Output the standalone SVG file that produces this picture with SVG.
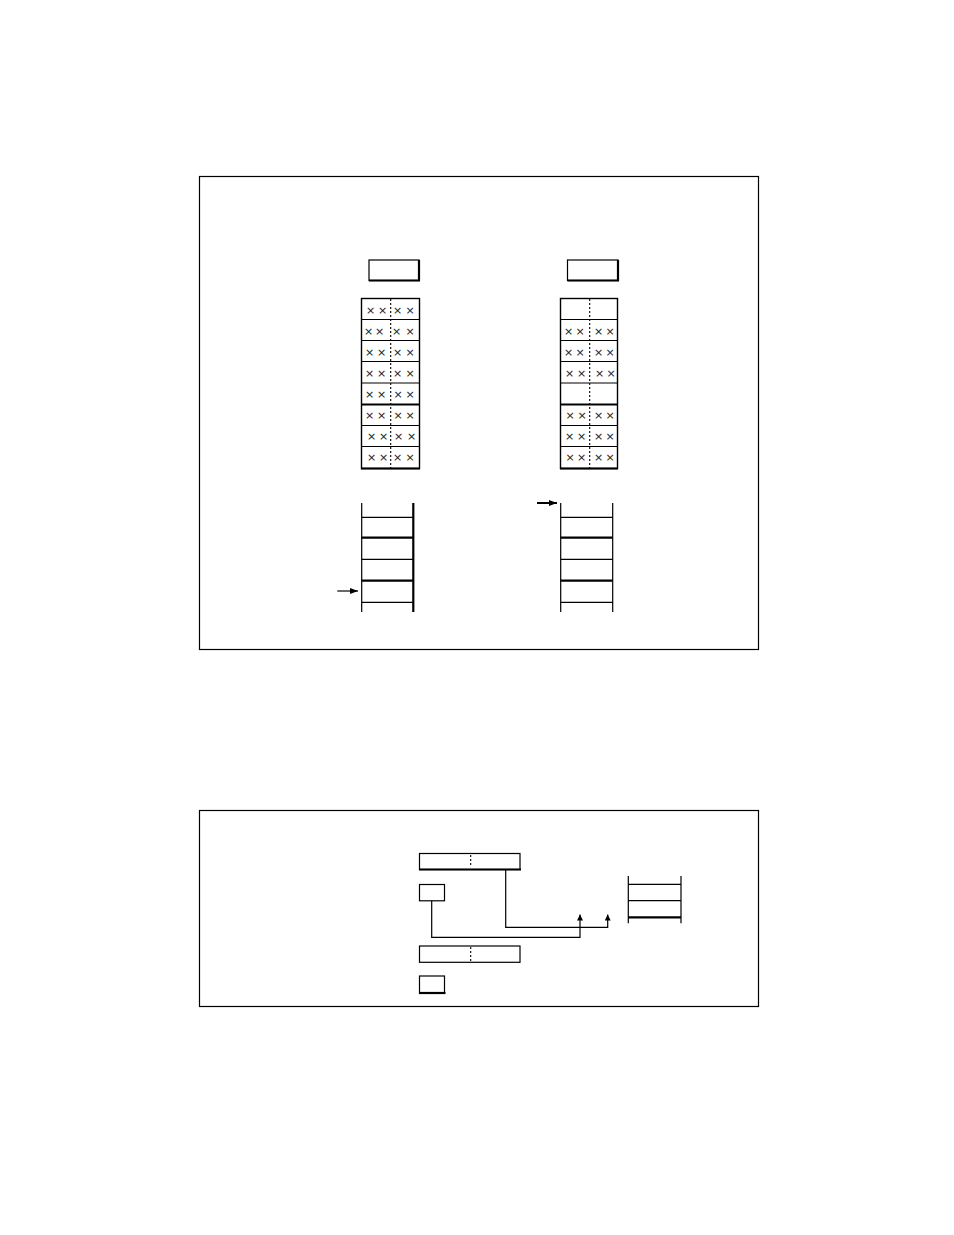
<svg xmlns="http://www.w3.org/2000/svg" width="954" height="1235" viewBox="0 0 954 1235">
<style>
.fr{fill:none;stroke:#000;stroke-width:1.2}
.ln{stroke:#000;stroke-width:1.2;fill:none}
.tk{stroke:#000;stroke-width:2.2;fill:none}
.dt{stroke:#000;stroke-width:1.1;stroke-dasharray:2,2;fill:none}
.xm{font-family:"DejaVu Sans","Liberation Sans",sans-serif;font-size:11px;fill:#222;text-anchor:middle}
</style>
<defs>
<marker id="ah" markerUnits="userSpaceOnUse" markerWidth="8" markerHeight="6" refX="8" refY="3" orient="auto">
<path d="M0,0 L8,3 L0,6 z" fill="#000"/>
</marker>
<marker id="ahs" markerUnits="userSpaceOnUse" markerWidth="6" markerHeight="6" refX="6" refY="3" orient="auto">
<path d="M0,0 L6,3 L0,6 z" fill="#000"/>
</marker>
</defs>
<rect width="954" height="1235" fill="#fff"/>

<g id="frame-top"><rect class="fr" x="199.5" y="176.5" width="559" height="473"/></g>
<g id="frame-bottom"><rect class="fr" x="199.5" y="810.5" width="559" height="196"/></g>

<g id="left-reg">
<rect class="ln" x="369" y="260" width="50" height="20.5"/>
<path class="tk" d="M419,260 V281 M369,280.5 H420"/>
</g>
<g id="right-reg">
<rect class="ln" x="567.5" y="260" width="50.5" height="20.5"/>
<path class="tk" d="M618,260 V281 M567.5,280.5 H619"/>
</g>

<g id="left-stack">
<rect class="ln" x="361.5" y="298.5" width="58" height="170" style="stroke-width:1.4"/>
<path class="ln" d="M361.5,319.5 H419.5 M361.5,340.5 H419.5 M361.5,361.5 H419.5 M361.5,383 H419.5 M361.5,425.5 H419.5 M361.5,446.5 H419.5"/>
<path class="tk" d="M361.5,404.5 H419.5 M361,468.5 H420"/>
<path class="dt" d="M390.7,299 V468"/>
<text class="xm" x="370.5 382.5 397.5 410" y="314">××××</text>
<text class="xm" x="368.5 379.5 396.5 410" y="335">××××</text>
<text class="xm" x="369.5 381.5 397.5 410" y="356">××××</text>
<text class="xm" x="369.5 381.5 397.5 410" y="377">××××</text>
<text class="xm" x="369.5 381.5 398 410" y="398">××××</text>
<text class="xm" x="369.5 381.5 398 410" y="419">××××</text>
<text class="xm" x="371.5 383.5 398.5 411.5" y="440">××××</text>
<text class="xm" x="371.5 383.5 397.5 410" y="461">××××</text>
</g>

<g id="right-stack">
<rect class="ln" x="560.5" y="298.5" width="57" height="170" style="stroke-width:1.4"/>
<path class="ln" d="M560.5,319.5 H617.5 M560.5,340.5 H617.5 M560.5,361.5 H617.5 M560.5,383 H617.5 M560.5,425.5 H617.5 M560.5,446.5 H617.5"/>
<path class="tk" d="M560.5,404.5 H617.5 M560,468.5 H618"/>
<path class="dt" d="M589.7,299 V468"/>
<text class="xm" x="568.5 580 598.5 610" y="335">××××</text>
<text class="xm" x="568.5 580 598.5 610" y="356">××××</text>
<text class="xm" x="569.5 581.5 599.5 611" y="377">××××</text>
<text class="xm" x="570 582 598.5 610" y="419">××××</text>
<text class="xm" x="569.5 581.5 598.5 610" y="440">××××</text>
<text class="xm" x="570 581.5 598.5 610" y="461">××××</text>
</g>

<g id="left-list">
<path class="ln" d="M361.7,503 V612 M361.7,517.3 H413.3 M361.7,559.3 H413.3 M361.7,602.3 H413.3"/>
<path class="tk" d="M413.3,503 V612 M361.7,537.7 H413.3 M361.7,580.7 H413.3"/>
</g>
<g id="right-list">
<path class="ln" d="M560.7,503 V612 M612.7,503 V612 M560.7,517.3 H612.7 M560.7,559.3 H612.7 M560.7,602.3 H612.7"/>
<path class="tk" d="M560.7,537.7 H612.7 M560.7,580.7 H612.7"/>
</g>

<g id="wide-box-1">
<rect class="ln" x="419.5" y="853.5" width="100.5" height="16"/>
<path class="tk" d="M419,869.5 H521"/>
<path class="dt" d="M470.7,855 V866"/>
</g>
<g id="small-box-1"><rect class="ln" x="419.5" y="884.5" width="25" height="16.3"/></g>
<g id="wide-box-2">
<rect class="ln" x="419.5" y="946" width="100.5" height="16.3"/>
<path class="dt" d="M470.7,947 V961"/>
</g>
<g id="small-box-2">
<rect class="ln" x="419.5" y="976" width="25" height="17"/>
<path class="tk" d="M419,993 H445.5"/>
</g>
<g id="table-right">
<path class="ln" d="M628.3,876 V923.3 M681,876 V923.3 M628.3,884.3 H681 M628.3,900.7 H681"/>
<path class="tk" d="M628.3,917.3 H681"/>
</g>

<g id="connectors">
<path class="ln" d="M337.3,591 H358" marker-end="url(#ah)"/>
<path class="tk" d="M537,503 H557" marker-end="url(#ah)" style="stroke-width:2"/>
<path class="ln" d="M431.7,900.8 V937.3 H580 V914.5" marker-end="url(#ahs)"/>
<path class="ln" d="M505.7,870 V927.3 H607.7 V914.5" marker-end="url(#ahs)"/>
</g>
</svg>
